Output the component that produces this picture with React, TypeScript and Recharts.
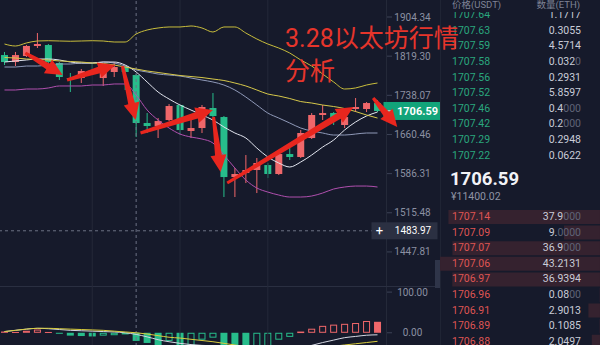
import React from "react";
import { ComposedChart, BarChart, Bar, Line, XAxis, YAxis, ReferenceLine } from "recharts";

const BG = "#161a2b";
const GRID = "#242939";
const AXIS_TEXT = "#8b90a2";
const UP = "#ef676a";
const DOWN = "#27bd8b";
const ARROW = "#e8261e";
const FONT = 'Roboto, "Noto Sans CJK SC", sans-serif';

// candles, one per period
const opens = [1821.7, 1806.9, 1819.6, 1841.0, 1843.1, 1804.8, 1773.5, 1773.5, 1790.2, 1773.5, 1786.0, 1796.4, 1779.7, 1682.8, 1676.9, 1688.7, 1718.5, 1667.2, 1673.0, 1712.5, 1694.6, 1580.0, 1587.4, 1593.0, 1602.3, 1585.6, 1623.0, 1617.4, 1653.6, 1698.6, 1702.5, 1678.9, 1710.5, 1710.5, 1722.5];
const highs = [1828.2, 1828.2, 1843.1, 1869.1, 1845.3, 1806.9, 1783.9, 1792.2, 1804.8, 1796.4, 1806.9, 1798.5, 1781.8, 1702.5, 1692.6, 1720.5, 1720.5, 1692.6, 1718.5, 1742.7, 1696.6, 1596.7, 1621.1, 1615.5, 1606.1, 1624.9, 1634.4, 1669.1, 1702.5, 1718.5, 1704.5, 1712.5, 1732.6, 1724.5, 1728.6];
const lows = [1800.6, 1798.5, 1817.5, 1836.7, 1804.8, 1769.4, 1744.8, 1763.2, 1779.7, 1757.1, 1775.6, 1748.9, 1655.5, 1663.3, 1653.6, 1686.7, 1659.4, 1653.6, 1663.3, 1694.6, 1543.6, 1543.6, 1569.0, 1550.8, 1578.2, 1583.7, 1611.7, 1615.5, 1651.7, 1688.7, 1678.9, 1673.0, 1704.5, 1704.5, 1704.5];
const closes = [1806.9, 1821.7, 1841.0, 1845.3, 1806.9, 1775.6, 1771.4, 1788.1, 1788.1, 1786.0, 1796.4, 1786.0, 1682.8, 1676.9, 1686.7, 1716.5, 1669.1, 1673.0, 1714.5, 1696.6, 1580.0, 1585.6, 1593.0, 1606.1, 1585.6, 1623.0, 1617.4, 1663.3, 1698.6, 1702.5, 1692.6, 1694.6, 1714.5, 1722.5, 1706.59];

// overlay lines
const bollUpper = [1845.3, 1841.0, 1847.5, 1851.8, 1852.4, 1851.8, 1851.2, 1851.8, 1852.4, 1851.8, 1849.6, 1849.6, 1866.9, 1875.7, 1880.1, 1882.3, 1882.3, 1884.5, 1880.1, 1871.3, 1882.3, 1882.3, 1869.1, 1856.1, 1845.3, 1836.7, 1826.0, 1811.2, 1798.5, 1781.8, 1765.3, 1750.9, 1753.0, 1759.1, 1763.2];
const bollMid = [1796.4, 1796.4, 1798.5, 1798.5, 1800.6, 1802.7, 1802.7, 1804.8, 1804.8, 1806.9, 1804.8, 1798.5, 1790.2, 1786.0, 1781.8, 1779.7, 1777.6, 1773.5, 1769.4, 1765.3, 1759.1, 1748.9, 1734.6, 1718.5, 1702.5, 1692.6, 1682.8, 1673.0, 1667.2, 1663.3, 1659.4, 1659.4, 1661.3, 1663.3, 1663.3];
const bollLower = [1748.9, 1748.9, 1750.9, 1750.9, 1753.0, 1757.1, 1757.1, 1757.1, 1759.1, 1759.1, 1761.2, 1761.2, 1738.7, 1708.5, 1688.7, 1673.0, 1661.3, 1655.5, 1651.7, 1644.0, 1621.1, 1596.7, 1574.5, 1559.9, 1552.6, 1547.2, 1543.6, 1543.6, 1545.4, 1550.8, 1558.1, 1561.7, 1563.5, 1563.5, 1561.7];
const maFast = [1806.9, 1809.1, 1811.2, 1813.3, 1813.3, 1811.2, 1806.9, 1804.8, 1804.8, 1806.9, 1806.9, 1800.6, 1786.0, 1765.3, 1744.8, 1730.6, 1718.5, 1708.5, 1698.6, 1688.7, 1675.0, 1663.3, 1653.6, 1634.4, 1617.4, 1606.1, 1598.6, 1607.9, 1621.1, 1636.3, 1649.7, 1669.1, 1684.8, 1696.6, 1704.5];
const maSlow = [1816.5, 1815.4, 1813.3, 1812.2, 1811.2, 1809.1, 1808.0, 1806.9, 1804.8, 1803.7, 1800.6, 1796.4, 1792.2, 1788.1, 1785.0, 1781.8, 1778.7, 1776.6, 1774.5, 1771.4, 1768.4, 1763.2, 1757.1, 1748.9, 1740.7, 1736.7, 1731.6, 1725.5, 1722.5, 1718.5, 1715.5, 1711.5, 1705.5, 1698.6, 1692.6];

// lower panel
const macdHist = [3, 2, 5, 8, 2, -2, -7, -8, -9, -7, -6, -4, -20, -25, -35, -20, -38, -32, -17, -12, -40, -50, -58, -50, -38, -17, -10, 3, 10, 17, 20, 22, 24, 29, 27];
const macdDif = [3, 6, 9, 11, 10, 8, 6, 5, 4, 3, 2, 0, -4, -10, -17, -22, -26, -29, -31, -32, -38, -45, -52, -55, -55, -50, -44, -37, -31, -24, -18, -12, -9, -6, -5];
const macdDea = [3, 6, 9, 11, 11, 10, 9, 8, 7, 6, 4, 2, 0, -3, -7, -11, -13, -16, -19, -22, -26, -30, -34, -38, -41, -43, -43, -42, -40, -37, -33, -30, -27, -24, -21];

const priceTicks = [1447.81, 1515.48, 1586.31, 1660.46, 1738.07, 1819.3, 1904.34];
const macdTicks = [0, 100];
const lastPrice = 1706.59;
const crossPrice = 1483.97;
const crossIndex = 12;
const gridIndexes = [8, 16, 24];

// hand-drawn arrows: [fromIndex, fromPrice, toIndex, toPrice]
const arrows = [
  [1.9, 1826.0, 5.3, 1779.7],
  [5.7, 1769.4, 10.1, 1800.6],
  [10.75, 1798.5, 11.95, 1688.7],
  [12.4, 1663.3, 19.0, 1708.5],
  [19.05, 1694.6, 19.7, 1589.3],
  [20.3, 1569.0, 31.8, 1714.5],
  [33.6, 1732.6, 35.8, 1675.0],
];

// order book
const askPrices = [1707.64, 1707.63, 1707.59, 1707.58, 1707.56, 1707.52, 1707.46, 1707.42, 1707.29, 1707.22];
const askQty = [1.1717, 0.3055, 4.5714, 0.032, 0.2931, 5.8597, 0.4, 0.2, 0.2948, 0.0622];
const bidPrices = [1707.14, 1707.09, 1707.07, 1707.06, 1706.97, 1706.96, 1706.91, 1706.89, 1706.88];
const bidQty = [37.9, 9.0, 36.9, 43.2131, 36.9394, 0.08, 2.9013, 0.1085, 2.0497];

const candleRows = opens.map((o, i) => ({
  i,
  open: o,
  high: highs[i],
  low: lows[i],
  close: closes[i],
  range: [lows[i], highs[i]],
  bUp: bollUpper[i],
  bMid: bollMid[i],
  bLow: bollLower[i],
  ma: maFast[i],
  ma2: maSlow[i],
}));

const macdRows = macdHist.map((h, i) => ({
  i,
  hist: h,
  rising: i > 0 && h > macdHist[i - 1],
  dif: macdDif[i],
  dea: macdDea[i],
}));

const bidRows = bidPrices.map((p, i) => ({ price: p.toFixed(2), qty: bidQty[i] }));

const Candle = (props: any) => {
  const { x, y, width, height, payload } = props;
  const { open, close, high, low } = payload;
  const lnH = Math.log(high);
  const lnL = Math.log(low);
  const py = (p: number) => (lnH === lnL ? y : y + (height * (lnH - Math.log(p))) / (lnH - lnL));
  const cx = x + width / 2;
  const color = close >= open ? UP : DOWN;
  const top = py(Math.max(open, close));
  const bottom = py(Math.min(open, close));
  return (
    <g>
      <line x1={cx} x2={cx} y1={y} y2={y + height} stroke={color} strokeWidth={1} />
      <rect x={x} y={top} width={width} height={Math.max(1, bottom - top)} fill={color} />
    </g>
  );
};

const HistBar = (props: any) => {
  const { x, y, width, height, payload } = props;
  const top = Math.min(y, y + height);
  const h = Math.max(1, Math.abs(height));
  const color = payload.hist >= 0 ? UP : DOWN;
  if (payload.rising) {
    return <rect x={x + 0.5} y={top + 0.5} width={width - 1} height={Math.max(0.5, h - 1)} fill="none" stroke={color} strokeWidth={1} />;
  }
  return <rect x={x} y={top} width={width} height={h} fill={color} />;
};

const Arrow = (props: any) => {
  const { x1, y1, x2, y2 } = props;
  const dx = x2 - x1;
  const dy = y2 - y1;
  const len = Math.hypot(dx, dy) || 1;
  const ux = dx / len;
  const uy = dy / len;
  const nx = -uy;
  const ny = ux;
  const head = Math.min(17, len * 0.45);
  const bx = x2 - ux * head;
  const by = y2 - uy * head;
  const pts = [
    [x1 + nx * 1.5, y1 + ny * 1.5],
    [bx + nx * 3.4, by + ny * 3.4],
    [bx + nx * 8, by + ny * 8],
    [x2, y2],
    [bx - nx * 8, by - ny * 8],
    [bx - nx * 3.4, by - ny * 3.4],
    [x1 - nx * 1.5, y1 - ny * 1.5],
  ];
  return <polygon points={pts.map((p) => p.join(",")).join(" ")} fill={ARROW} />;
};

const PriceTag = (props: any) => {
  const xr = Math.max(props.x1, props.x2);
  const y1 = props.y1;
  return (
    <g>
      <rect x={xr + 0.5} y={y1 - 9} width={57} height={18} fill="#12a47a" />
      <line x1={xr + 3} x2={xr + 8} y1={y1} y2={y1} stroke="#fff" />
      <text x={xr + 34.5} y={y1 + 4} fill="#fff" fontSize={11} fontWeight={700} textAnchor="middle" fontFamily={FONT}>
        {lastPrice.toFixed(2)}
      </text>
    </g>
  );
};

const CrossLine = (props: any) => {
  const xl = Math.min(props.x1, props.x2);
  const xr = Math.max(props.x1, props.x2);
  const y1 = props.y1;
  return (
    <g>
      <line x1={xl} x2={xr} y1={y1} y2={y1} stroke="#6c7184" strokeDasharray="3 3" />
      <rect x={xr - 11.5} y={y1 - 8.5} width={66} height={17} fill="#2b3042" />
      <text x={xr - 3.5} y={y1 + 4.5} fill="#fff" fontSize={13} textAnchor="middle" fontFamily={FONT}>+</text>
      <text x={xr + 30} y={y1 + 3.5} fill="#fff" fontSize={10} textAnchor="middle" fontFamily={FONT}>
        {crossPrice.toFixed(2)}
      </text>
    </g>
  );
};

const AxisTick = (props: any) => {
  const { x, y, payload } = props;
  return (
    <g>
      <line x1={x + 4} x2={x + 9} y1={y} y2={y} stroke="#3c4256" />
      <text x={x + 29.5} y={y + 3.5} fill={AXIS_TEXT} fontSize={10} textAnchor="middle" fontFamily={FONT}>
        {Number(payload.value).toFixed(2)}
      </text>
    </g>
  );
};

const Qty = ({ v }: { v: number }) => {
  const s = v.toFixed(4);
  const m = s.match(/^(.*?)(0*)$/) as RegExpMatchArray;
  return (
    <span>
      <span style={{ color: "#c9ccd8" }}>{m[1]}</span>
      <span style={{ color: "#5f6477" }}>{m[2]}</span>
    </span>
  );
};

const ROW = 15.6;

export default function App() {
  return (
    <div
      style={{
        position: "fixed",
        left: 0,
        top: 0,
        width: 600,
        height: 345,
        overflow: "hidden",
        background: BG,
        fontFamily: FONT,
      }}
    >
      {/* separators */}
      <div style={{ position: "absolute", left: 386, top: 0, width: 1, height: 345, background: GRID }} />
      <div style={{ position: "absolute", left: 0, top: 286, width: 440, height: 1, background: "#2a2f41" }} />
      <div style={{ position: "absolute", left: 440, top: 0, width: 1, height: 345, background: "#1f2434" }} />
      <div style={{ position: "absolute", left: 435, top: 260, width: 5, height: 28, background: "#2f3549" }} />

      {/* price panel */}
      <div style={{ position: "absolute", left: -1.5, top: 0 }}>
        <ComposedChart width={441.5} height={286} data={candleRows} margin={{ top: 0, right: 0, bottom: 0, left: 0 }}>
          <XAxis dataKey="i" type="category" hide />
          <XAxis xAxisId="n" dataKey="i" type="number" domain={[-0.5, 34.5]} allowDataOverflow hide />
          <YAxis
            orientation="right"
            width={57.5}
            scale="log"
            domain={[1391.4, 1942.5]}
            allowDataOverflow
            ticks={priceTicks}
            tick={<AxisTick />}
            tickLine={false}
            axisLine={false}
            tickSize={0}
            tickMargin={0}
            interval={0}
          />
          {gridIndexes.map((g) => (
            <ReferenceLine key={`g${g}`} xAxisId="n" x={g} stroke={GRID} />
          ))}
          <ReferenceLine xAxisId="n" x={crossIndex} stroke="#6c7184" strokeDasharray="3 3" />
          <Bar dataKey="range" barSize={7} shape={<Candle />} isAnimationActive={false} />
          <Line dataKey="bLow" stroke="#b04fae" strokeWidth={1} dot={false} activeDot={false} type="monotone" isAnimationActive={false} />
          <Line dataKey="bMid" stroke="#8f99b8" strokeWidth={1} dot={false} activeDot={false} type="monotone" isAnimationActive={false} />
          <Line dataKey="ma" stroke="#e2e5ef" strokeWidth={1} dot={false} activeDot={false} type="monotone" isAnimationActive={false} />
          <Line dataKey="ma2" stroke="#d6c84a" strokeWidth={1} dot={false} activeDot={false} type="monotone" isAnimationActive={false} />
          <Line dataKey="bUp" stroke="#c8bd3c" strokeWidth={1} dot={false} activeDot={false} type="monotone" isAnimationActive={false} />
          <ReferenceLine y={crossPrice} shape={<CrossLine />} />
          <ReferenceLine y={lastPrice} shape={<PriceTag />} />
          {arrows.map((a, k) => (
            <ReferenceLine
              key={`a${k}`}
              xAxisId="n"
              segment={[{ x: a[0], y: a[1] }, { x: a[2], y: a[3] }]}
              ifOverflow="visible"
              shape={<Arrow />}
            />
          ))}
        </ComposedChart>
      </div>

      {/* macd panel */}
      <div style={{ position: "absolute", left: -1.5, top: 286 }}>
        <ComposedChart width={441.5} height={120} data={macdRows} margin={{ top: 0, right: 0, bottom: 0, left: 0 }}>
          <XAxis dataKey="i" type="category" hide />
          <XAxis xAxisId="n" dataKey="i" type="number" domain={[-0.5, 34.5]} allowDataOverflow hide />
          <YAxis
            orientation="right"
            width={57.5}
            domain={[-180, 115]}
            allowDataOverflow
            ticks={macdTicks}
            tick={<AxisTick />}
            tickLine={false}
            axisLine={false}
            tickSize={0}
            tickMargin={0}
            interval={0}
          />
          {gridIndexes.map((g) => (
            <ReferenceLine key={`g${g}`} xAxisId="n" x={g} stroke={GRID} />
          ))}
          <ReferenceLine xAxisId="n" x={crossIndex} stroke="#6c7184" strokeDasharray="3 3" />
          <Bar dataKey="hist" barSize={7} shape={<HistBar />} isAnimationActive={false} />
          <Line dataKey="dif" stroke="#d5d8e3" strokeWidth={1} dot={false} activeDot={false} type="monotone" isAnimationActive={false} />
          <Line dataKey="dea" stroke="#d9cd3d" strokeWidth={1} dot={false} activeDot={false} type="monotone" isAnimationActive={false} />
        </ComposedChart>
      </div>

      {/* order book header */}
      <div style={{ position: "absolute", left: 452, top: -1, fontSize: 9.5, color: "#7e8396", lineHeight: "12px" }}>价格(USDT)</div>
      <div style={{ position: "absolute", right: 20, top: -1, fontSize: 9.5, color: "#7e8396", lineHeight: "12px" }}>数量(ETH)</div>

      {/* asks */}
      <div style={{ position: "absolute", left: 441, top: 12, width: 159, height: 152, overflow: "hidden" }}>
        {askPrices.map((p, k) => (
          <div
            key={p}
            style={{
              position: "absolute",
              left: 0,
              top: -4.8 + k * ROW,
              width: 159,
              height: ROW,
              lineHeight: `${ROW}px`,
              fontSize: 10.5,
            }}
          >
            <span style={{ position: "absolute", left: 11, color: "#2aa77e" }}>{p.toFixed(2)}</span>
            <span style={{ position: "absolute", right: 19 }}>
              <Qty v={askQty[k]} />
            </span>
          </div>
        ))}
      </div>

      {/* last price */}
      <div style={{ position: "absolute", left: 450, top: 168, fontSize: 18.5, fontWeight: 700, color: "#f2f3f7", lineHeight: "22px" }}>
        {lastPrice.toFixed(2)}
      </div>
      <div style={{ position: "absolute", left: 451, top: 190, fontSize: 10.5, color: "#8f94a5", lineHeight: "14px" }}>¥11400.02</div>

      {/* bid depth */}
      <div style={{ position: "absolute", left: 440, top: 216.7 - ROW / 2 }}>
        <BarChart layout="vertical" width={160} height={ROW * bidRows.length} data={bidRows} margin={{ top: 0, right: 0, bottom: 0, left: 0 }} barCategoryGap={1}>
          <XAxis type="number" hide reversed domain={[0, 40]} allowDataOverflow />
          <YAxis type="category" dataKey="price" hide />
          <Bar dataKey="qty" fill="#35222f" isAnimationActive={false} />
        </BarChart>
      </div>

      {/* bids */}
      {bidPrices.map((p, k) => (
        <div
          key={p}
          style={{
            position: "absolute",
            left: 441,
            top: 216.7 - ROW / 2 + k * ROW,
            width: 159,
            height: ROW,
            lineHeight: `${ROW}px`,
            fontSize: 10.5,
          }}
        >
          <span style={{ position: "absolute", left: 11, color: "#df5553" }}>{p.toFixed(2)}</span>
          <span style={{ position: "absolute", right: 19 }}>
            <Qty v={bidQty[k]} />
          </span>
        </div>
      ))}

      {/* annotation */}
      <svg width={600} height={345} style={{ position: "absolute", left: 0, top: 0, pointerEvents: "none" }}>
        <text x={285} y={47} fill="#e6352b" fontSize={25} fontFamily={FONT}>
          3.28以太坊行情
        </text>
        <text x={285} y={80} fill="#e6352b" fontSize={25} fontFamily={FONT}>
          分析
        </text>
      </svg>
    </div>
  );
}
